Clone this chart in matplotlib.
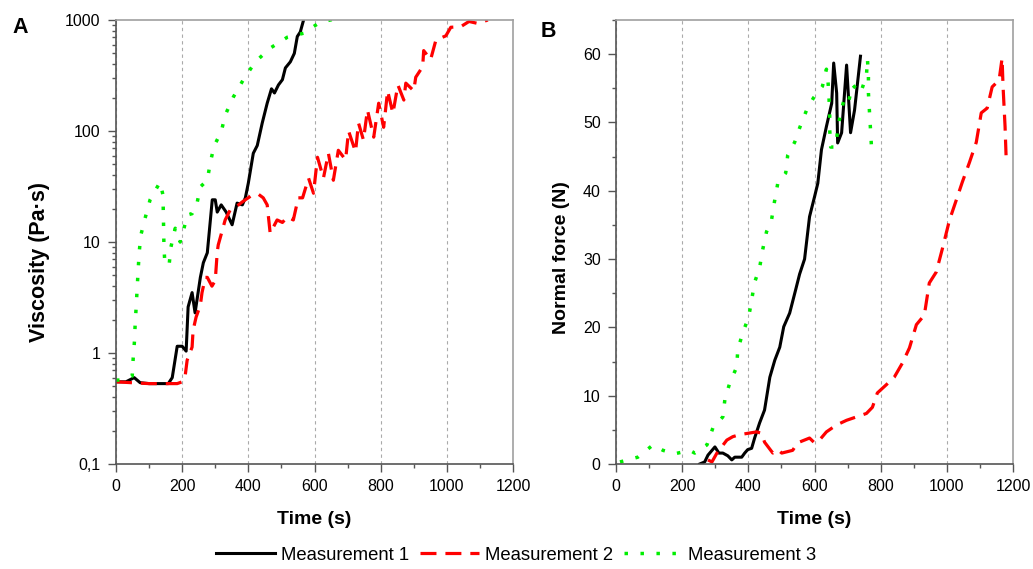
import matplotlib
matplotlib.use("Agg")
import matplotlib.pyplot as plt
from matplotlib.ticker import FixedLocator, MultipleLocator, LogLocator, NullFormatter

plt.rcParams['font.family'] = ['Liberation Sans', 'DejaVu Sans']

# ---- Panel A: viscosity (Pa·s) vs time (s) ----
a1_t = [0, 30, 55, 73, 100, 158, 170, 185, 200, 212, 218, 230, 239, 255, 264, 276, 291, 300, 306, 318,
        333, 351, 366, 382, 391, 400, 415, 427, 442, 457, 470, 479, 491, 503, 512, 527, 539, 548, 557, 567, 575]
a1_v = [0.55, 0.55, 0.6, 0.54, 0.53, 0.53, 0.6, 1.15, 1.15, 1.04, 2.6, 3.5, 2.3, 4.8, 6.5, 8, 24, 24, 18.6, 21.6,
        18.6, 14.3, 22.4, 21.6, 25, 34, 63, 74, 118, 178, 240, 220, 260, 290, 370, 420, 500, 710, 780, 1000, 1200]

a2_t = [0, 48, 100, 142, 185, 200, 209, 215, 230, 233, 242, 255, 260, 270, 276, 290, 300, 306, 309, 330,
        345, 365, 382, 412, 430, 445, 457, 466, 487, 503, 518, 536, 551, 564, 582, 597, 609, 627, 642, 657,
        672, 694, 703, 724, 733, 748, 760, 779, 794, 809, 821, 837, 852, 870, 876, 900, 906, 927, 930, 951,
        967, 997, 1012, 1042, 1067, 1094, 1124]
a2_v = [0.55, 0.54, 0.53, 0.53, 0.53, 0.55, 0.62, 0.86, 1.13, 1.6, 2.1, 2.7, 3.5, 4.8, 4.8, 4.0, 4.5, 8.1, 9.4, 15.8,
        19.4, 21, 23, 26.5, 27, 25, 21.6, 12, 15.8, 15, 16.8, 15.8, 25, 25, 37.6, 27.5, 58, 37.6, 63, 36,
        67, 55, 100, 65, 118, 83, 155, 88, 178, 108, 230, 144, 260, 190, 270, 230, 305, 380, 530, 440,
        660, 720, 860, 870, 970, 930, 1000]

a3_t = [0, 12, 49, 52, 56, 58, 61, 64, 67, 70, 75, 88, 103, 133, 142, 143, 145, 148, 161, 166,
        179, 194, 203, 215, 230, 245, 255, 276, 285, 297, 318, 330, 355, 385, 421, 467, 518, 567, 618, 648, 700]
a3_v = [0.57, 0.57, 0.62, 0.9, 1.3, 1.85, 2.6, 3.85, 5.6, 8, 11.5, 16.4, 24, 34.6, 26.5, 18.6, 9, 6.2, 6.4, 9,
        13.3, 10, 12.3, 17.5, 18, 22.4, 31.4, 36, 52, 74, 98, 139, 203, 290, 420, 560, 700, 760, 960, 1000, 1100]

# ---- Panel B: normal force (N) vs time (s) ----
b1_t = [253, 268, 278, 299, 311, 323, 338, 350, 359, 380, 389, 398, 410, 419, 434, 449, 465, 480, 495, 507,
        525, 543, 555, 570, 585, 600, 610, 621, 636, 652, 658, 667, 670, 682, 697, 709, 721, 739]
b1_f = [0, 0.3, 1.3, 2.5, 1.6, 1.6, 1.2, 0.6, 1.0, 1.0, 1.6, 2.1, 2.3, 3.8, 6.0, 7.9, 12.7, 15.2, 17.1, 20.1,
        22.1, 25.5, 27.8, 30, 36.2, 39.1, 41.1, 46, 49.4, 52.8, 58.7, 54.3, 47, 48.5, 58.4, 48.5, 51.8, 59.7]

b2_t = [278, 290, 305, 335, 353, 374, 425, 440, 449, 474, 489, 501, 534, 549, 585, 600, 615, 636, 666, 697,
        727, 757, 775, 790, 817, 841, 866, 887, 908, 932, 947, 968, 987, 1008, 1029, 1047, 1068, 1089, 1104, 1122,
        1137, 1158, 1167, 1170, 1176, 1179]
b2_f = [0.6, 0.3, 1.6, 3.5, 4.0, 4.3, 4.7, 4.5, 3.2, 1.6, 2.1, 1.6, 2.0, 3.1, 3.8, 3.1, 3.5, 4.7, 5.7, 6.4,
        6.9, 7.4, 8.3, 10.4, 11.6, 12.7, 14.8, 17.0, 20.4, 21.8, 26.5, 28.1, 31.6, 35.7, 38.7, 41.3, 44.1, 47.1, 51.4, 52.1,
        55.2, 56.2, 59.4, 55.2, 49.4, 45.2]

b3_t = [12, 66, 112, 142, 178, 223, 238, 275, 293, 323, 329, 344, 365, 368, 383, 401, 410, 419, 434, 443,
        455, 470, 479, 489, 513, 519, 540, 555, 576, 597, 624, 636, 640, 643, 646, 646, 649, 664, 670, 679,
        691, 703, 715, 739, 757, 760, 763, 763, 766, 769, 772, 781]
b3_f = [0.3, 1.0, 2.8, 2.0, 1.5, 2.0, 1.6, 2.8, 5.3, 6.9, 9.4, 11.9, 14.2, 16.7, 19.2, 21.5, 24, 26.6, 28.7, 31.3,
        34, 35.7, 38.4, 41.1, 42.6, 45.2, 47.1, 49.2, 51.8, 53.6, 55.3, 57.8, 56.7, 54.3, 51.5, 48.9, 46.4, 46.4, 48.9, 51.5,
        53.6, 53, 55.5, 54.3, 56.8, 59.3, 56.8, 54.3, 51.7, 49.2, 46.6, 46.3]

series_names = ["Measurement 1", "Measurement 2", "Measurement 3"]
x_ticks = [0, 200, 400, 600, 800, 1000, 1200]
a_yticks = [0.1, 1, 10, 100, 1000]
a_ylabels = ["0,1", "1", "10", "100", "1000"]
b_yticks = [0, 10, 20, 30, 40, 50, 60]

W, H = 1033, 569
fig = plt.figure(figsize=(W / 100, H / 100), dpi=100)
axA = fig.add_axes([116 / W, 1 - 464 / H, 397 / W, 444 / H])
axB = fig.add_axes([616 / W, 1 - 464 / H, 397 / W, 444 / H])

styles = [dict(color='black', lw=2.2, ls='-'),
          dict(color='#ff0000', lw=2.3, ls=(0, (5, 2.8))),
          dict(color='#00ee00', lw=2.5, ls=(0, (1.0, 3.6)))]

for s, t, v, name in zip(styles, [a1_t, a2_t, a3_t], [a1_v, a2_v, a3_v], series_names):
    axA.plot(t, v, label=name, **s)
for s, t, v in zip(styles, [b1_t, b2_t, b3_t], [b1_f, b2_f, b3_f]):
    axB.plot(t, v, **s)

axA.set_yscale('log')
axA.set_ylim(0.1, 1000)
axA.yaxis.set_major_locator(FixedLocator(a_yticks))
axA.set_yticklabels(a_ylabels)
axA.yaxis.set_minor_locator(LogLocator(base=10, subs=range(2, 10)))
axA.yaxis.set_minor_formatter(NullFormatter())

axB.set_ylim(0, 65)
axB.set_yticks(b_yticks)
axB.yaxis.set_minor_locator(MultipleLocator(5))

for ax in (axA, axB):
    ax.set_xlim(0, 1200)
    ax.set_xticks(x_ticks)
    ax.xaxis.set_minor_locator(MultipleLocator(100))
    ax.grid(True, axis='x', which='major', ls=(0, (3, 3)), color='#aaaaaa', lw=0.8)
    ax.tick_params(which='both', direction='out', labelsize=11.5, color='#555555')
    ax.tick_params(which='major', length=6, width=1, pad=5)
    ax.tick_params(which='minor', length=3, width=1)
    for sp in ('left', 'bottom'):
        ax.spines[sp].set_color('#555555')
        ax.spines[sp].set_linewidth(1.2)
    for sp in ('top', 'right'):
        ax.spines[sp].set_color('#a0a0a0')
        ax.spines[sp].set_linewidth(1.2)

# axis titles
fig.text(314 / W, 1 - 519 / H, "Time (s)", fontsize=14, fontweight='bold', ha='center', va='center')
fig.text(814 / W, 1 - 519 / H, "Time (s)", fontsize=14, fontweight='bold', ha='center', va='center')
fig.text(40 / W, 1 - 262 / H, "Viscosity (Pa·s)", fontsize=15.5, fontweight='bold',
         rotation=90, ha='center', va='center')
fig.text(561 / W, 1 - 258 / H, "Normal force (N)", fontsize=14, fontweight='bold',
         rotation=90, ha='center', va='center')

fig.text(12 / W, 1 - 33 / H, "A", fontsize=15.5, fontweight='bold')
fig.text(541 / W, 1 - 37 / H, "B", fontsize=15.5, fontweight='bold')

fig.legend(loc='center', bbox_to_anchor=(0.5, 1 - 555 / H), ncol=3, frameon=False,
           fontsize=13.3, handlelength=3.2, columnspacing=0.6, handletextpad=0.3)

fig.savefig("out.png", dpi=100)
